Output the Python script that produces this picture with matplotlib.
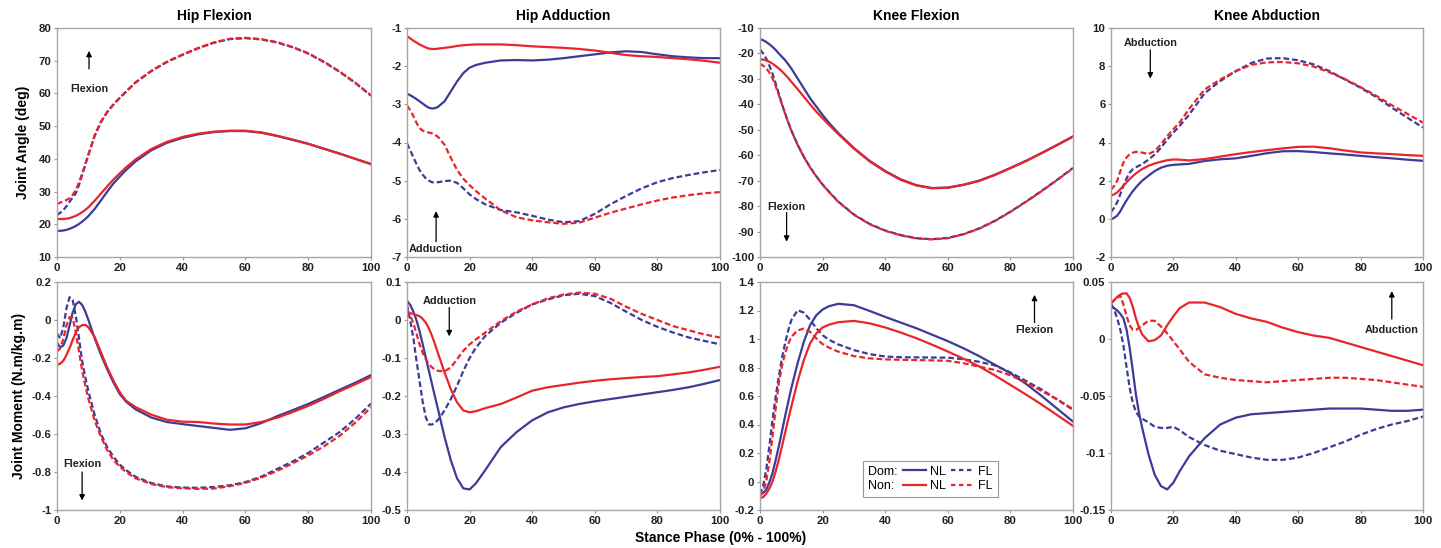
import matplotlib
matplotlib.use('Agg')
import matplotlib.pyplot as plt
from matplotlib.lines import Line2D
from matplotlib.ticker import FuncFormatter

plt.rcParams['font.family'] = ['Liberation Sans', 'DejaVu Sans']

# stance phase (%)
X = [0, 1, 2, 3, 4, 5, 6, 7, 8, 9, 10, 12, 14, 16, 18, 20, 22, 25, 30, 35,
     40, 45, 50, 55, 60, 65, 70, 75, 80, 85, 90, 95, 100]

# Hip flexion angle (deg)
hf_ang_dom_nl = [18.0, 18.0, 18.1, 18.3, 18.6, 19.0, 19.5, 20.1, 20.8, 21.6, 22.5, 24.7, 27.3, 30.0, 32.5, 34.6, 36.6,
                 39.2, 42.6, 44.9, 46.4, 47.5, 48.2, 48.5, 48.5, 48.0, 47.0, 45.8, 44.6, 43.1, 41.6, 40.0, 38.4]
hf_ang_non_nl = [21.7, 21.6, 21.6, 21.7, 21.9, 22.2, 22.6, 23.1, 23.7, 24.4, 25.2, 27.2, 29.4, 31.6, 33.7, 35.6, 37.4,
                 39.8, 43.0, 45.2, 46.7, 47.7, 48.3, 48.6, 48.6, 48.1, 47.1, 45.9, 44.6, 43.1, 41.6, 40.0, 38.4]
hf_ang_dom_fl = [22.8, 23.5, 24.3, 25.5, 26.9, 28.2, 29.5, 32.0, 35.0, 38.2, 41.2, 47.0, 51.2, 54.3, 56.6, 58.6, 60.5,
                 63.3, 66.8, 69.6, 71.8, 73.8, 75.5, 76.6, 76.9, 76.5, 75.6, 74.1, 72.2, 69.6, 66.6, 63.2, 59.3]
hf_ang_non_fl = [26.2, 26.6, 27.0, 27.4, 28.0, 29.0, 30.5, 32.8, 35.5, 38.4, 41.3, 47.3, 51.4, 54.4, 56.7, 58.7, 60.6,
                 63.4, 66.9, 69.7, 71.9, 73.9, 75.6, 76.7, 77.0, 76.6, 75.7, 74.2, 72.3, 69.7, 66.7, 63.3, 59.4]

# Hip adduction angle (deg)
ha_ang_dom_nl = [-2.72, -2.76, -2.81, -2.86, -2.92, -2.98, -3.04, -3.09, -3.11, -3.10, -3.06, -2.92, -2.66, -2.40,
                 -2.18, -2.04, -1.97, -1.91, -1.85, -1.84, -1.85, -1.83, -1.79, -1.74, -1.69, -1.64, -1.61, -1.63,
                 -1.69, -1.74, -1.77, -1.79, -1.79]
ha_ang_non_nl = [-1.21, -1.27, -1.33, -1.38, -1.43, -1.47, -1.51, -1.54, -1.55, -1.55, -1.54, -1.52, -1.50, -1.47,
                 -1.45, -1.44, -1.43, -1.43, -1.43, -1.45, -1.48, -1.50, -1.52, -1.55, -1.59, -1.65, -1.71, -1.74,
                 -1.76, -1.79, -1.82, -1.86, -1.91]
ha_ang_dom_fl = [-4.02, -4.20, -4.38, -4.56, -4.72, -4.84, -4.94, -5.00, -5.04, -5.05, -5.04, -5.01, -5.00, -5.06,
                 -5.20, -5.36, -5.48, -5.62, -5.77, -5.83, -5.92, -6.02, -6.09, -6.06, -5.87, -5.62, -5.40, -5.20,
                 -5.04, -4.93, -4.85, -4.78, -4.72]
ha_ang_non_fl = [-3.03, -3.15, -3.30, -3.48, -3.62, -3.69, -3.72, -3.74, -3.76, -3.80, -3.86, -4.06, -4.40, -4.72,
                 -4.95, -5.12, -5.27, -5.47, -5.78, -5.96, -6.04, -6.09, -6.13, -6.10, -5.97, -5.84, -5.73, -5.62,
                 -5.52, -5.44, -5.38, -5.33, -5.30]

# Knee flexion angle (deg)
kf_ang_dom_nl = [-14.4, -14.8, -15.5, -16.4, -17.4, -18.6, -20.0, -21.3, -22.6, -24.2, -25.9, -29.8, -33.7, -37.6,
                 -40.9, -44.2, -47.2, -51.3, -57.2, -62.2, -66.2, -69.5, -71.8, -72.9, -72.7, -71.6, -70.0, -67.7,
                 -65.0, -62.2, -59.1, -55.9, -52.6]
kf_ang_non_nl = [-22.3, -22.4, -22.7, -23.3, -24.0, -24.9, -25.9, -27.0, -28.3, -29.6, -31.1, -34.0, -37.0, -40.0,
                 -42.9, -45.5, -48.0, -51.7, -57.4, -62.4, -66.4, -69.7, -71.9, -73.0, -72.8, -71.7, -70.1, -67.8,
                 -65.1, -62.3, -59.2, -56.0, -52.7]
kf_ang_dom_fl = [-18.5, -20.0, -22.0, -24.8, -28.0, -31.8, -35.8, -39.8, -43.5, -47.0, -50.2, -55.8, -60.6, -64.7,
                 -68.3, -71.5, -74.3, -78.2, -83.3, -87.0, -89.6, -91.4, -92.6, -93.0, -92.5, -91.0, -88.8, -85.8,
                 -82.2, -78.2, -74.0, -69.6, -65.0]
kf_ang_non_fl = [-24.0, -24.8, -25.8, -27.5, -29.8, -32.8, -36.3, -40.0, -43.6, -47.1, -50.3, -55.9, -60.7, -64.8,
                 -68.4, -71.6, -74.4, -78.3, -83.4, -87.1, -89.7, -91.5, -92.7, -93.1, -92.6, -91.1, -88.9, -85.9,
                 -82.3, -78.3, -74.1, -69.7, -65.1]

# Knee abduction angle (deg)
ka_ang_dom_nl = [-0.03, 0.05, 0.17, 0.40, 0.70, 0.97, 1.22, 1.45, 1.65, 1.83, 2.00, 2.26, 2.50, 2.68, 2.78, 2.83,
                 2.85, 2.88, 3.03, 3.12, 3.17, 3.30, 3.44, 3.54, 3.55, 3.50, 3.43, 3.37, 3.30, 3.23, 3.17, 3.10, 3.04]
ka_ang_non_nl = [1.22, 1.28, 1.39, 1.55, 1.74, 1.92, 2.09, 2.24, 2.38, 2.50, 2.61, 2.78, 2.90, 2.99, 3.07, 3.11,
                 3.10, 3.06, 3.13, 3.26, 3.39, 3.50, 3.60, 3.69, 3.77, 3.78, 3.70, 3.58, 3.48, 3.43, 3.39, 3.34, 3.30]
ka_ang_dom_fl = [0.35, 0.58, 0.87, 1.30, 1.74, 2.12, 2.43, 2.60, 2.70, 2.79, 2.87, 3.10, 3.37, 3.72, 4.15, 4.52,
                 4.87, 5.45, 6.58, 7.22, 7.74, 8.17, 8.40, 8.42, 8.31, 8.09, 7.74, 7.30, 6.87, 6.38, 5.83, 5.30, 4.78]
ka_ang_non_fl = [1.53, 1.72, 2.00, 2.50, 2.96, 3.22, 3.39, 3.47, 3.51, 3.50, 3.47, 3.39, 3.55, 3.90, 4.33, 4.70,
                 5.05, 5.75, 6.78, 7.30, 7.74, 8.07, 8.20, 8.22, 8.15, 7.98, 7.68, 7.32, 6.90, 6.45, 5.95, 5.50, 5.04]

# Hip flexion moment (N.m/kg.m)
hf_mom_dom_nl = [-0.12, -0.144, -0.134, -0.096, -0.03, 0.04, 0.083, 0.096, 0.08, 0.045, 0.0, -0.096, -0.183, -0.26,
                 -0.33, -0.39, -0.43, -0.47, -0.513, -0.537, -0.548, -0.558, -0.568, -0.578, -0.57, -0.543, -0.507,
                 -0.475, -0.442, -0.405, -0.367, -0.33, -0.29]
hf_mom_non_nl = [-0.235, -0.23, -0.215, -0.185, -0.148, -0.105, -0.065, -0.038, -0.027, -0.026, -0.038, -0.09, -0.17,
                 -0.25, -0.32, -0.38, -0.425, -0.458, -0.498, -0.525, -0.535, -0.537, -0.545, -0.55, -0.55, -0.537,
                 -0.515, -0.485, -0.452, -0.415, -0.375, -0.338, -0.3]
hf_mom_dom_fl = [-0.07, -0.096, -0.04, 0.06, 0.12, 0.105, 0.02, -0.095, -0.215, -0.3, -0.375, -0.5, -0.6, -0.67,
                 -0.72, -0.762, -0.79, -0.825, -0.858, -0.876, -0.882, -0.883, -0.879, -0.87, -0.853, -0.825, -0.785,
                 -0.745, -0.70, -0.645, -0.59, -0.52, -0.44]
hf_mom_non_fl = [-0.165, -0.15, -0.1, -0.03, 0.015, 0.01, -0.065, -0.165, -0.265, -0.345, -0.415, -0.53, -0.615,
                 -0.685, -0.738, -0.772, -0.8, -0.833, -0.863, -0.88, -0.886, -0.889, -0.887, -0.875, -0.857, -0.83,
                 -0.795, -0.755, -0.713, -0.665, -0.61, -0.54, -0.46]

# Hip adduction moment (N.m/kg.m)
ha_mom_dom_nl = [0.051, 0.04, 0.023, 0.0, -0.029, -0.063, -0.099, -0.134, -0.169, -0.204, -0.238, -0.308, -0.369,
                 -0.417, -0.443, -0.446, -0.43, -0.395, -0.334, -0.295, -0.264, -0.243, -0.23, -0.221, -0.214, -0.208,
                 -0.202, -0.196, -0.19, -0.184, -0.177, -0.168, -0.158]
ha_mom_non_nl = [0.022, 0.018, 0.016, 0.013, 0.01, 0.003, -0.007, -0.022, -0.042, -0.065, -0.09, -0.138, -0.182,
                 -0.217, -0.238, -0.243, -0.24, -0.232, -0.221, -0.204, -0.186, -0.177, -0.171, -0.165, -0.16, -0.156,
                 -0.153, -0.15, -0.148, -0.143, -0.138, -0.131, -0.123]
ha_mom_dom_fl = [0.041, 0.0, -0.046, -0.105, -0.16, -0.215, -0.256, -0.275, -0.275, -0.27, -0.262, -0.238, -0.208,
                 -0.173, -0.134, -0.1, -0.073, -0.042, -0.007, 0.019, 0.041, 0.054, 0.065, 0.069, 0.063, 0.045, 0.022,
                 0.0, -0.018, -0.033, -0.046, -0.055, -0.064]
ha_mom_non_fl = [0.028, 0.012, -0.007, -0.035, -0.064, -0.086, -0.103, -0.116, -0.125, -0.131, -0.134, -0.135, -0.125,
                 -0.103, -0.081, -0.064, -0.051, -0.033, -0.003, 0.022, 0.041, 0.057, 0.067, 0.072, 0.069, 0.056,
                 0.035, 0.016, 0.0, -0.016, -0.027, -0.038, -0.046]

# Knee flexion moment (N.m/kg.m)
kf_mom_dom_nl = [-0.092, -0.08, -0.057, -0.005, 0.06, 0.15, 0.246, 0.35, 0.456, 0.556, 0.654, 0.829, 0.98, 1.097,
                 1.167, 1.207, 1.23, 1.247, 1.237, 1.197, 1.155, 1.115, 1.075, 1.03, 0.985, 0.935, 0.88, 0.82, 0.76,
                 0.685, 0.6, 0.51, 0.42]
kf_mom_non_nl = [-0.115, -0.11, -0.085, -0.05, 0.001, 0.07, 0.153, 0.245, 0.34, 0.435, 0.526, 0.701, 0.852, 0.969,
                 1.039, 1.081, 1.1, 1.118, 1.127, 1.11, 1.081, 1.045, 1.005, 0.96, 0.912, 0.862, 0.808, 0.745, 0.678,
                 0.61, 0.54, 0.465, 0.39]
kf_mom_dom_fl = [-0.092, -0.03, 0.083, 0.25, 0.433, 0.595, 0.736, 0.865, 0.969, 1.06, 1.132, 1.202, 1.185, 1.135,
                 1.075, 1.027, 0.995, 0.962, 0.922, 0.894, 0.877, 0.872, 0.871, 0.87, 0.869, 0.858, 0.84, 0.815,
                 0.765, 0.705, 0.645, 0.575, 0.503]
kf_mom_non_fl = [-0.104, -0.07, 0.001, 0.14, 0.316, 0.51, 0.689, 0.81, 0.899, 0.965, 1.015, 1.06, 1.073, 1.05,
                 1.004, 0.964, 0.94, 0.911, 0.88, 0.864, 0.857, 0.854, 0.852, 0.85, 0.847, 0.83, 0.806, 0.783, 0.745,
                 0.695, 0.635, 0.575, 0.508]

# Knee abduction moment (N.m/kg.m)
ka_mom_dom_nl = [0.029, 0.027, 0.025, 0.022, 0.018, 0.008, -0.008, -0.028, -0.049, -0.065, -0.078, -0.101, -0.119,
                 -0.129, -0.132, -0.126, -0.116, -0.103, -0.087, -0.075, -0.069, -0.066, -0.065, -0.064, -0.063,
                 -0.062, -0.061, -0.061, -0.061, -0.062, -0.063, -0.063, -0.062]
ka_mom_non_nl = [0.032, 0.034, 0.037, 0.039, 0.04, 0.04, 0.036, 0.028, 0.018, 0.01, 0.004, -0.002, -0.001, 0.003,
                 0.012, 0.02, 0.027, 0.032, 0.032, 0.028, 0.022, 0.018, 0.015, 0.01, 0.006, 0.003, 0.001, -0.003,
                 -0.007, -0.011, -0.015, -0.019, -0.023]
ka_mom_dom_fl = [0.031, 0.026, 0.018, 0.008, -0.006, -0.025, -0.043, -0.056, -0.064, -0.068, -0.07, -0.073, -0.077,
                 -0.078, -0.078, -0.077, -0.08, -0.086, -0.093, -0.098, -0.101, -0.104, -0.106, -0.106, -0.104, -0.1,
                 -0.095, -0.09, -0.084, -0.079, -0.075, -0.072, -0.068]
ka_mom_non_fl = [0.031, 0.034, 0.036, 0.038, 0.03, 0.02, 0.012, 0.008, 0.008, 0.01, 0.012, 0.016, 0.016, 0.011,
                 0.005, -0.002, -0.009, -0.02, -0.031, -0.034, -0.036, -0.037, -0.038, -0.037, -0.036, -0.035,
                 -0.034, -0.034, -0.035, -0.036, -0.038, -0.04, -0.042]

titles = ['Hip Flexion', 'Hip Adduction', 'Knee Flexion', 'Knee Abduction']
y_limits = [(10, 80), (-7, -1), (-100, -10), (-2, 10),
            (-1, 0.2), (-0.5, 0.1), (-0.2, 1.4), (-0.15, 0.05)]
y_steps = [10, 1, 10, 2, 0.2, 0.1, 0.2, 0.05]
x_ticks = [0, 20, 40, 60, 80, 100]

BLUE = '#3c3c98'
RED = '#e8252b'
DASH = (0, (2.6, 1.3))

series = [
    (hf_ang_dom_nl, hf_ang_dom_fl, hf_ang_non_nl, hf_ang_non_fl),
    (ha_ang_dom_nl, ha_ang_dom_fl, ha_ang_non_nl, ha_ang_non_fl),
    (kf_ang_dom_nl, kf_ang_dom_fl, kf_ang_non_nl, kf_ang_non_fl),
    (ka_ang_dom_nl, ka_ang_dom_fl, ka_ang_non_nl, ka_ang_non_fl),
    (hf_mom_dom_nl, hf_mom_dom_fl, hf_mom_non_nl, hf_mom_non_fl),
    (ha_mom_dom_nl, ha_mom_dom_fl, ha_mom_non_nl, ha_mom_non_fl),
    (kf_mom_dom_nl, kf_mom_dom_fl, kf_mom_non_nl, kf_mom_non_fl),
    (ka_mom_dom_nl, ka_mom_dom_fl, ka_mom_non_nl, ka_mom_non_fl),
]

# direction arrows: (label, text x, text y, arrow tail y, arrow head y)
notes = [
    ('Flexion', 10.2, 61.5, 67.5, 73.0),
    ('Adduction', 9.3, -6.78, -6.6, -5.8),
    ('Flexion', 8.5, -80.5, -82.5, -94.0),
    ('Abduction', 12.6, 9.2, 8.85, 7.35),
    ('Flexion', 8.0, -0.76, -0.8, -0.95),
    ('Adduction', 13.5, 0.05, 0.033, -0.043),
    ('Flexion', 87.7, 1.06, 1.115, 1.31),
    ('Abduction', 90.0, 0.008, 0.0175, 0.042),
]

W, H = 1441, 548
lefts = [57, 407, 760, 1111]
rights = [371, 720, 1073, 1423]
rows = [(28, 257), (282, 510)]


def fmt(v, pos):
    v = round(v, 6)
    if v == 0:
        return '0'
    return '{:g}'.format(v)


fig = plt.figure(figsize=(W / 100, H / 100), dpi=100)
axes = []
for i in range(8):
    r, c = divmod(i, 4)
    top, bot = rows[r]
    ax = fig.add_axes([lefts[c] / W, 1 - bot / H, (rights[c] - lefts[c]) / W, (bot - top) / H])
    axes.append(ax)
    dom_nl, dom_fl, non_nl, non_fl = series[i]
    ax.plot(X, dom_nl, color=BLUE, lw=1.6)
    ax.plot(X, dom_fl, color=BLUE, lw=1.6, linestyle=DASH)
    ax.plot(X, non_nl, color=RED, lw=1.6)
    ax.plot(X, non_fl, color=RED, lw=1.6, linestyle=DASH)

    lo, hi = y_limits[i]
    step = y_steps[i]
    n = int(round((hi - lo) / step))
    ax.set_ylim(lo, hi)
    ax.set_yticks([lo + k * step for k in range(n + 1)])
    ax.set_xlim(0, 100)
    ax.set_xticks(x_ticks)
    ax.yaxis.set_major_formatter(FuncFormatter(fmt))
    ax.tick_params(length=2, width=0.8, color='#999999', labelsize=8.2, pad=2)
    for lab in ax.get_xticklabels() + ax.get_yticklabels():
        lab.set_fontweight('bold')
        lab.set_color('#222222')
    for sp in ax.spines.values():
        sp.set_color('#a6a6a6')
        sp.set_linewidth(1.0)

    label, tx, ty, y0, y1 = notes[i]
    ax.annotate('', xy=(tx, y1), xytext=(tx, y0),
                arrowprops=dict(arrowstyle='-|>', color='black', lw=0.9,
                                mutation_scale=8, shrinkA=0, shrinkB=0))
    ax.text(tx, ty, label, ha='center', va='center', fontsize=7.8,
            fontweight='bold', color='#222222')

    if r == 0:
        ax.set_title(titles[c], fontsize=10, fontweight='bold', pad=6)

axes[0].set_ylabel('Joint Angle (deg)', fontsize=10, fontweight='bold', labelpad=6)
axes[4].set_ylabel('Joint Moment (N.m/kg.m)', fontsize=10, fontweight='bold', labelpad=4)
fig.text(0.5, 1 - 538 / H, 'Stance Phase (0% - 100%)', ha='center', va='center',
         fontsize=10, fontweight='bold')

# legend in the knee flexion moment panel
blank = Line2D([], [], linestyle='none')
handles = [blank, blank,
           Line2D([], [], color=BLUE, lw=1.6), Line2D([], [], color=RED, lw=1.6),
           Line2D([], [], color=BLUE, lw=1.6, linestyle=(0, (2.0, 1.6))),
           Line2D([], [], color=RED, lw=1.6, linestyle=(0, (2.0, 1.6)))]
labels = ['Dom:', 'Non:', 'NL', 'NL', 'FL', 'FL']
leg = axes[6].legend(handles, labels, ncol=3, loc='lower left', bbox_to_anchor=(0.329, 0.057),
                     borderaxespad=0, fontsize=9, handlelength=1.85, handletextpad=0.3,
                     columnspacing=0.45, labelspacing=0.2, borderpad=0.4, fancybox=False,
                     framealpha=1, edgecolor='#999999')
leg.get_frame().set_linewidth(0.8)
# no empty handle space in front of "Dom:" / "Non:"
for item in leg._legend_handle_box.get_children()[0].get_children():
    item.get_children()[0].width = 0
    item.sep = 0

fig.savefig('out.png', dpi=100)
